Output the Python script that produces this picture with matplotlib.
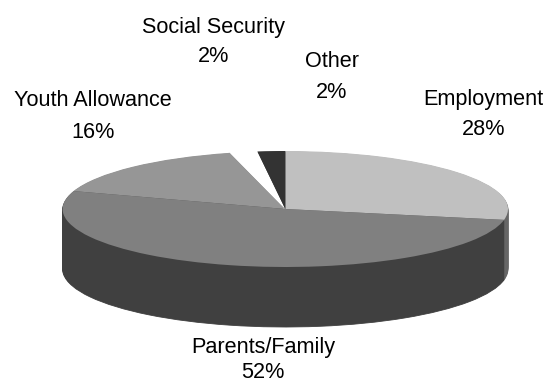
import matplotlib
matplotlib.use("Agg")
import matplotlib.pyplot as plt

plt.rcParams['font.family'] = ['Liberation Sans', 'DejaVu Sans']

# Data
categories = ["Employment", "Parents/Family", "Youth Allowance", "Social Security", "Other"]
values = [28, 52, 16, 2, 2]
pct_labels = ["28%", "52%", "16%", "2%", "2%"]

# Styles
top_colors = ["#C0C0C0", "#808080", "#969696", "#FFFFFF", "#333333"]
side_colors = ["#666666", "#404040", "#404040", "#FFFFFF", "#404040"]

# Layout in pixels
W, H = 552, 383
cx, cy, rx, ry, depth = 285.3, 209.0, 222.7, 58.0, 60
label_pos = [(483, 105, 483.5, 135), (263.5, 353, 263, 378),
             (93, 106, 93, 138), (213, 33, 214, 62), (332, 67, 332, 98)]

fig = plt.figure(figsize=(W / 100, H / 100), dpi=100, facecolor="white")
ax = fig.add_axes([0, 0, 1, 1])


def draw_pie(colors, offset, edges):
    wedges, _ = ax.pie(values, colors=colors, startangle=90, counterclock=False,
                       center=(0, -offset / ry), radius=1,
                       wedgeprops={"linewidth": 0.6 if edges else 0})
    if edges:
        for w in wedges:
            w.set_edgecolor(w.get_facecolor())


for d in range(depth, 0, -1):
    draw_pie(side_colors, d, True)
draw_pie(top_colors, 0, False)

ax.set_aspect("auto")
ax.set_xlim(-cx / rx, (W - cx) / rx)
ax.set_ylim(-(H - cy) / ry, cy / ry)
ax.axis("off")

for name, pct, (x1, y1, x2, y2) in zip(categories, pct_labels, label_pos):
    fig.text(x1 / W, 1 - y1 / H, name, ha="center", va="baseline",
             fontsize=15.6, color="black")
    fig.text(x2 / W, 1 - y2 / H, pct, ha="center", va="baseline",
             fontsize=15.6, color="black")

fig.savefig("out.png", dpi=100, facecolor="white")
